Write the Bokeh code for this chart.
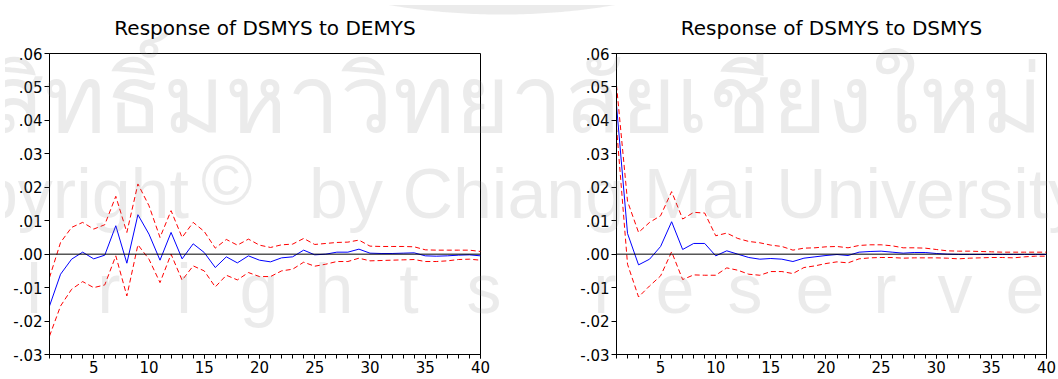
import numpy as np
from bokeh.plotting import figure
from bokeh.layouts import row
from bokeh.models import Span, Div, SingleIntervalTicker, FixedTicker, CustomJSTickFormatter
from bokeh.embed import file_html
from bokeh.resources import INLINE

# ---------------- data ----------------
periods = list(range(1, 41))
y_ticks = [-0.03, -0.02, -0.01, 0.0, 0.01, 0.02, 0.03, 0.04, 0.05, 0.06]

titles = ["Response of DSMYS to DEMYS", "Response of DSMYS to DSMYS"]

demys_resp = [-0.0155, -0.0060, -0.0015, 0.0006, -0.0014, -0.0003, 0.0085, -0.0027, 0.0118, 0.0060,
              -0.0018, 0.0065, -0.0014, 0.0031, 0.0005, -0.0040, -0.0008, -0.0026, -0.0005, -0.0018,
              -0.0023, -0.0011, -0.0008, 0.0012, -0.0002, 0.0000, 0.0006, 0.0006, 0.0015, 0.0003,
              0.0002, 0.0002, 0.0003, 0.0004, -0.0005, -0.0006, -0.0005, -0.0003, -0.0002, -0.0005]
demys_upper = [-0.0070, 0.0035, 0.0080, 0.0095, 0.0075, 0.0088, 0.0173, 0.0065, 0.0210, 0.0145,
               0.0050, 0.0130, 0.0050, 0.0095, 0.0068, 0.0018, 0.0044, 0.0027, 0.0045, 0.0027,
               0.0020, 0.0028, 0.0030, 0.0047, 0.0029, 0.0032, 0.0035, 0.0036, 0.0042, 0.0024,
               0.0023, 0.0023, 0.0023, 0.0022, 0.0013, 0.0012, 0.0012, 0.0012, 0.0012, 0.0008]
demys_lower = [-0.0245, -0.0155, -0.0105, -0.0082, -0.0100, -0.0092, -0.0005, -0.0125, 0.0028, -0.0015,
               -0.0085, 0.0000, -0.0078, -0.0035, -0.0050, -0.0098, -0.0063, -0.0077, -0.0055, -0.0067,
               -0.0067, -0.0050, -0.0045, -0.0024, -0.0036, -0.0030, -0.0022, -0.0022, -0.0012, -0.0020,
               -0.0019, -0.0018, -0.0017, -0.0016, -0.0022, -0.0022, -0.0020, -0.0016, -0.0015, -0.0018]

dsmys_resp = [0.0445, 0.0062, -0.0032, -0.0015, 0.0023, 0.0097, 0.0014, 0.0032, 0.0032, -0.0005,
              0.0010, 0.0000, -0.0010, -0.0015, -0.0013, -0.0015, -0.0022, -0.0012, -0.0008, -0.0004,
              -0.0001, -0.0004, 0.0006, 0.0008, 0.0009, 0.0006, 0.0003, 0.0005, 0.0005, 0.0002,
              0.0000, -0.0001, -0.0001, -0.0001, -0.0001, -0.0001, -0.0001, -0.0001, -0.0001, -0.0001]
dsmys_upper = [0.0505, 0.0158, 0.0065, 0.0095, 0.0115, 0.0187, 0.0105, 0.0125, 0.0123, 0.0055,
               0.0063, 0.0047, 0.0038, 0.0034, 0.0027, 0.0023, 0.0012, 0.0018, 0.0019, 0.0022,
               0.0023, 0.0019, 0.0026, 0.0028, 0.0028, 0.0025, 0.0019, 0.0019, 0.0018, 0.0014,
               0.0010, 0.0009, 0.0009, 0.0008, 0.0007, 0.0006, 0.0006, 0.0006, 0.0006, 0.0006]
dsmys_lower = [0.0380, -0.0030, -0.0128, -0.0095, -0.0065, 0.0007, -0.0076, -0.0062, -0.0063, -0.0063,
               -0.0041, -0.0048, -0.0060, -0.0063, -0.0052, -0.0052, -0.0058, -0.0040, -0.0035, -0.0028,
               -0.0023, -0.0026, -0.0014, -0.0011, -0.0010, -0.0010, -0.0012, -0.0011, -0.0011, -0.0011,
               -0.0012, -0.0014, -0.0012, -0.0011, -0.0010, -0.0010, -0.0011, -0.0008, -0.0006, -0.0006]

# ---------------- watermark (page layout: text, x, baseline y, size, anchor) ----------------
WM_COLOR = "#808080"
WM_ALPHA = 0.16
watermark = [
    ("ลิขสิทธิ์มหาวิทยาลัยเชียงใหม่", -140, 127, 94, "start"),
    ("Copyright", 184, 213, 70, "end"),
    ("©", 196, 199, 70, "start"),
    ("by Chiang Mai University", 304, 213, 70, "start"),
]
row3_left = ["l", "r", "i", "g", "h", "t", "s"]
row3_right = ["r", "e", "s", "e", "r", "v", "e"]
for i, ch in enumerate(row3_left):
    watermark.append((ch, 29 + 75 * i, 308, 70, "middle"))
for i, ch in enumerate(row3_right):
    watermark.append((ch, 600 + 70 * i, 308, 70, "middle"))

_R = 682.7
_arc_x = np.linspace(383.5, 610.5, 60)
_arc_y = (9.5 - _R) + np.sqrt(np.clip(_R ** 2 - (_arc_x - 497.0) ** 2, 0, None))
logo_path = "M 383.5 -2 " + " ".join(f"L {x:.1f} {y:.1f}" for x, y in zip(_arc_x, _arc_y)) + " L 610.5 -2 Z"

FONT = "DejaVu Sans"
H = 379
FIG_W = 529


def make_panel(title, resp, upper, lower, border_left, border_right):
    p = figure(width=FIG_W, height=H, x_range=(1, 40), y_range=(-0.03, 0.06),
               output_backend="svg", toolbar_location=None,
               min_border_left=border_left, min_border_right=border_right,
               min_border_top=53, min_border_bottom=25)
    p.title.text = title
    p.title.align = "center"
    p.title.text_font = FONT
    p.title.text_font_size = "20px"
    p.title.text_font_style = "normal"
    p.title.text_color = "black"
    p.title.standoff = 27

    p.xgrid.visible = False
    p.ygrid.visible = False
    p.outline_line_color = "black"
    p.outline_line_alpha = 1
    p.outline_line_width = 1

    p.xaxis.ticker = SingleIntervalTicker(interval=5, num_minor_ticks=5)
    p.yaxis.ticker = FixedTicker(ticks=y_ticks)
    p.yaxis.formatter = CustomJSTickFormatter(code="return tick.toFixed(2).replace('0.', '.');")
    for ax in (p.xaxis, p.yaxis):
        ax.axis_line_color = "black"
        ax.major_tick_line_color = "black"
        ax.minor_tick_line_color = "black"
        ax.major_tick_in = 0
        ax.minor_tick_in = 0
        ax.major_label_text_font = FONT
        ax.major_label_text_font_size = "15px"
        ax.major_label_text_color = "black"
        ax.major_label_standoff = 2
    p.xaxis.major_tick_out = 4
    p.xaxis.minor_tick_out = 4
    p.yaxis.major_tick_out = 5
    p.yaxis.minor_tick_line_color = None

    p.add_layout(Span(location=0, dimension="width", line_color="black", line_width=1))
    p.line(periods, upper, line_color="#ff0000", line_width=1, line_dash="5 3")
    p.line(periods, lower, line_color="#ff0000", line_width=1, line_dash="5 3")
    p.line(periods, resp, line_color="#0000ff", line_width=1)
    return p


p1 = make_panel(titles[0], demys_resp, demys_upper, demys_lower, 49, 49)
p2 = make_panel(titles[1], dsmys_resp, dsmys_upper, dsmys_lower, 87, 12)

texts = "".join(
    f'<text x="{x}" y="{y}" font-family="Liberation Sans, sans-serif" font-size="{s}" '
    f'text-anchor="{a}" fill="{WM_COLOR}" fill-opacity="{WM_ALPHA}">{t}</text>'
    for t, x, y, s, a in watermark)
svg = (f'<svg xmlns="http://www.w3.org/2000/svg" width="1058" height="379" '
       f'style="position:absolute;left:0;top:0;pointer-events:none;overflow:hidden">'
       f'<path d="{logo_path}" fill="{WM_COLOR}" fill-opacity="{WM_ALPHA}"/>{texts}</svg>')
wm = Div(text=svg, width=1058, height=379,
         styles={"position": "absolute", "left": "0px", "top": "0px",
                 "z-index": "10", "pointer-events": "none"})

layout = row(p1, p2, wm)
open("out.html", "w").write(file_html(layout, INLINE))
